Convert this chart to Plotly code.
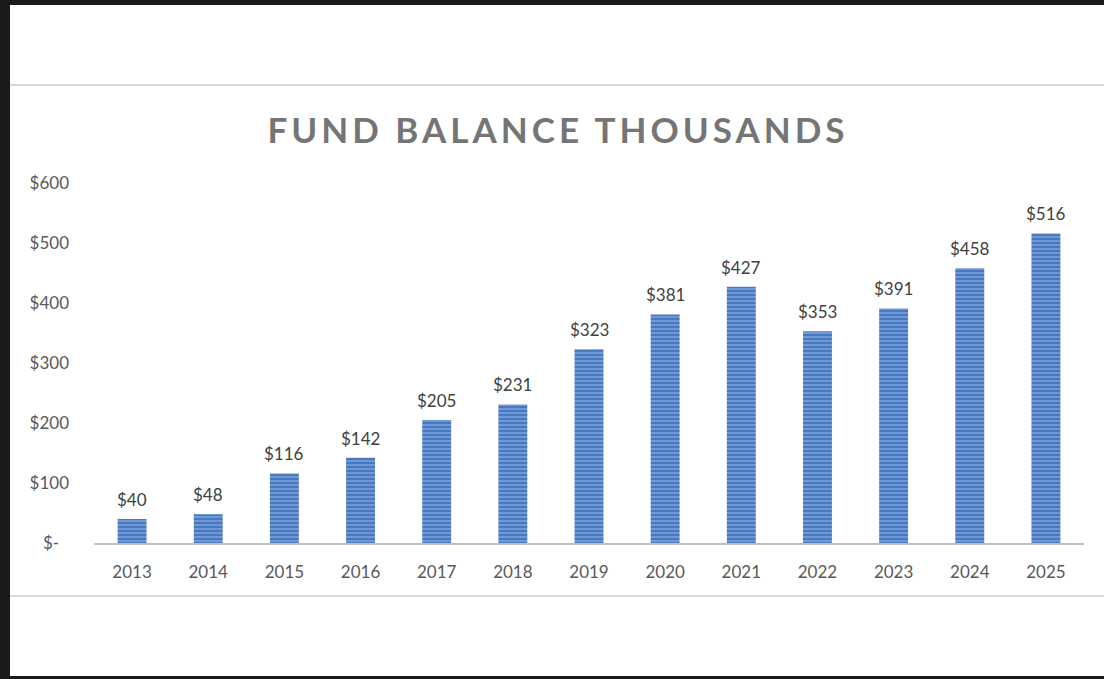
import plotly.graph_objects as go

years = ["2013", "2014", "2015", "2016", "2017", "2018", "2019",
         "2020", "2021", "2022", "2023", "2024", "2025"]
balances = [40, 48, 116, 142, 205, 231, 323, 381, 427, 353, 391, 458, 516]
tick_vals = [0, 100, 200, 300, 400, 500, 600]
tick_text = ["$-\u2007", "$100", "$200", "$300", "$400", "$500", "$600"]
title_text = "FUND BALANCE THOUSANDS"

W, H = 1104, 679
L, R, T, B = 94, 20, 183, 136
PW, PH = W - L - R, H - T - B


def px_x(px):
    return (px - L) / PW


def px_y(py):
    return (H - B - py) / PH


FONT = "Lato"

fig = go.Figure()
fig.add_trace(go.Bar(
    x=years, y=balances,
    marker=dict(
        color="#4A7AC4",
        line=dict(width=0),
        pattern=dict(shape="-", bgcolor="#4878C2", fgcolor="#8EAEE0",
                     size=4, solidity=0.3, fillmode="replace"),
    ),
    width=0.38,
    hoverinfo="x+y",
))

for i, v in enumerate(balances):
    fig.add_annotation(x=i, y=v, xref="x", yref="y", text=f"${v}",
                       showarrow=False, yanchor="bottom", yshift=7,
                       font=dict(family=FONT, size=17, color="#404040"))

shapes = []
# black frame edges
shapes.append(dict(type="rect", xref="paper", yref="paper",
                   x0=px_x(0), x1=px_x(W), y0=px_y(0), y1=px_y(5),
                   fillcolor="#1a1a1a", line=dict(width=0), layer="above"))
shapes.append(dict(type="rect", xref="paper", yref="paper",
                   x0=px_x(0), x1=px_x(10), y0=px_y(0), y1=px_y(H),
                   fillcolor="#1a1a1a", line=dict(width=0), layer="above"))
shapes.append(dict(type="rect", xref="paper", yref="paper",
                   x0=px_x(0), x1=px_x(W), y0=px_y(676), y1=px_y(H),
                   fillcolor="#1a1a1a", line=dict(width=0), layer="above"))
# thin gray separators
for py in (85, 596):
    shapes.append(dict(type="line", xref="paper", yref="paper",
                       x0=px_x(10), x1=px_x(W), y0=px_y(py), y1=px_y(py),
                       line=dict(color="#D9D9D9", width=2)))

fig.update_layout(
    width=W, height=H,
    margin=dict(l=L, r=R, t=T, b=B, autoexpand=False),
    paper_bgcolor="white", plot_bgcolor="white",
    showlegend=False,
    shapes=shapes,
    title=dict(
        text=f'<span style="letter-spacing:4px">{title_text}</span>',
        x=558 / W, xanchor="center",
        y=1 - 131 / H, yanchor="middle", yref="container",
        font=dict(family=FONT, size=35, color="#757575", weight="bold"),
    ),
    xaxis=dict(
        type="category", range=[-0.5, 12.5],
        showline=True, linecolor="#BFBFBF", linewidth=2,
        showgrid=False, ticks="", ticklabelstandoff=13,
        tickfont=dict(family=FONT, size=17, color="#595959"),
    ),
    yaxis=dict(
        range=[0, 600], tickvals=tick_vals, ticktext=tick_text,
        showgrid=False, zeroline=False, showline=False,
        ticks="", ticklabelstandoff=24,
        tickfont=dict(family=FONT, size=17, color="#595959"),
    ),
)

fig.write_html("out.html",
               config={"displayModeBar": False},
               post_script="document.body.style.margin='0';"
                           "document.body.style.overflow='hidden';")
